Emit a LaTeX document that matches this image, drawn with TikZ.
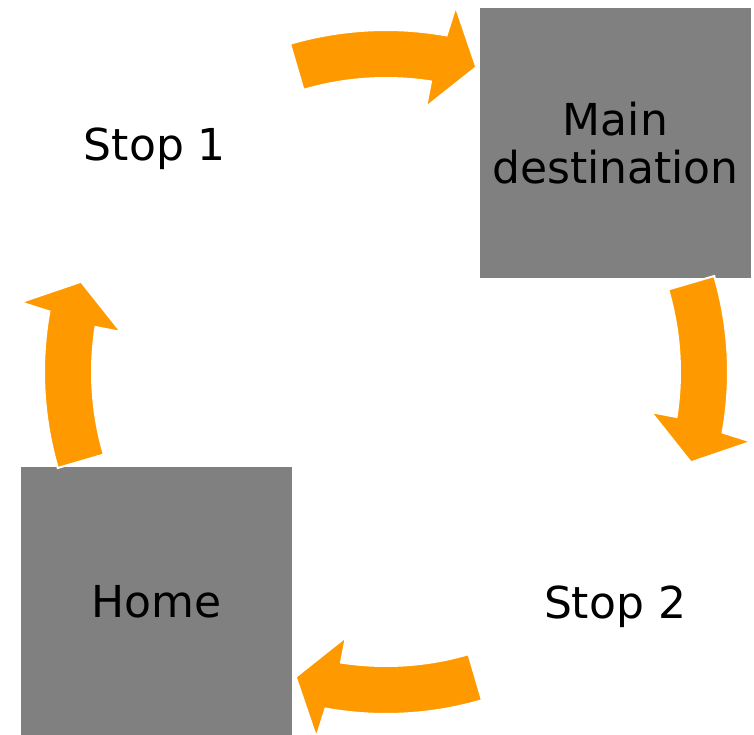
\documentclass[tikz,border=0pt]{standalone}
\usepackage{fontspec}
\setmainfont{DejaVu Sans}
\usetikzlibrary{calc}
\definecolor{boxgray}{HTML}{808080}
\definecolor{arroworange}{HTML}{FF9900}
\begin{document}
\begin{tikzpicture}[x=1pt,y=1pt,
  graybox/.style={fill=boxgray, minimum width=271pt, minimum height=270pt, inner sep=0pt, align=center,
    font=\fontsize{44}{48}\selectfont},
  plainlabel/.style={inner sep=0pt, align=center, font=\fontsize{44}{48}\selectfont},
  cyclearrow/.style={fill=arroworange, draw=white, line width=2pt, line join=miter}]
\useasboundingbox (0,0) rectangle (754,-735);
\node[graybox] (main) at (615.5,-143) {Main\\destination};
\node[graybox] (home) at (156.5,-601.5) {Home};
\node[plainlabel] (stop1) at (155,-149) {Stop 1};
\node[plainlabel] (stop2) at (615,-607) {Stop 2};
\coordinate (C) at (386,-372);
\begin{scope}[shift={(C)}]
\foreach \c in {90,0,-90,180}{
  \path[cyclearrow]
    (\c+16.3:342) arc[start angle=\c+16.3, end angle=\c-10.2, radius=342]
    -- (\c-10.8:372) -- (\c-16.5:318) -- (\c-8.6:268) -- (\c-8.8:294)
    arc[start angle=\c-8.8, end angle=\c+16.3, radius=294] -- cycle;
}
\end{scope}
\end{tikzpicture}
\end{document}
